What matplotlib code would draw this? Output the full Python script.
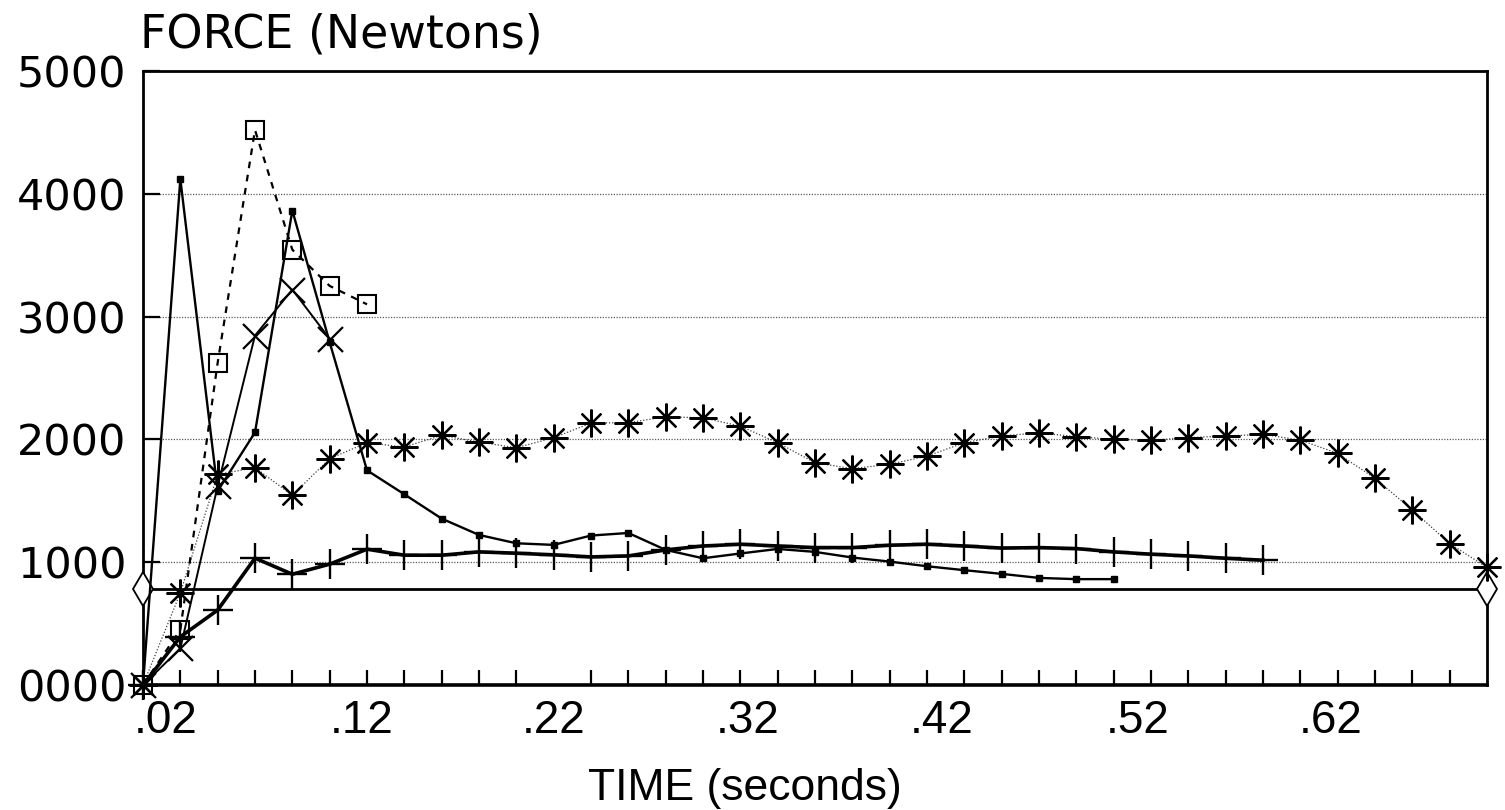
import matplotlib
matplotlib.use("Agg")
import matplotlib.pyplot as plt
from matplotlib.ticker import FixedLocator

# tiempos de muestreo (s)
time = [0.00, 0.02, 0.04, 0.06, 0.08, 0.10, 0.12, 0.14, 0.16, 0.18,
        0.20, 0.22, 0.24, 0.26, 0.28, 0.30, 0.32, 0.34, 0.36, 0.38,
        0.40, 0.42, 0.44, 0.46, 0.48, 0.50, 0.52, 0.54, 0.56, 0.58,
        0.60, 0.62, 0.64, 0.66, 0.68, 0.70, 0.72]

# series de fuerza (N)
open_square = [0, 450, 2625, 4520, 3545, 3250, 3100]
filled_square = [0, 4120, 1580, 2057, 3864, 2791, 1748, 1553, 1355, 1222,
                 1154, 1141, 1217, 1238, 1100, 1032, 1071, 1108, 1084, 1038,
                 1005, 967, 935, 905, 872, 862, 862]
cross = [0, 298, 1620, 2846, 3220, 2819]
asterisk = [0, 750, 1715, 1770, 1545, 1843, 1973, 1938, 2033, 1978,
            1932, 2014, 2133, 2136, 2184, 2176, 2108, 1973, 1810, 1762,
            1797, 1864, 1973, 2028, 2054, 2022, 2000, 1994, 2014, 2028,
            2041, 1994, 1886, 1683, 1425, 1152, 957]
plus = [0, 392, 610, 1033, 902, 984, 1106, 1057, 1057, 1084,
        1073, 1060, 1043, 1051, 1100, 1132, 1146, 1132, 1119, 1119,
        1138, 1146, 1132, 1115, 1119, 1111, 1084, 1065, 1051, 1032, 1016]
body_weight = [780, 780]

y_ticks = [0, 1000, 2000, 3000, 4000, 5000]
x_label_pos = [0.012, 0.117, 0.220, 0.324, 0.428, 0.533, 0.636]
x_labels = [".02", ".12", ".22", ".32", ".42", ".52", ".62"]

fig = plt.figure(figsize=(15.05, 8.10), dpi=100)
ax = fig.add_axes([143 / 1505, 1 - 685 / 810, (1487 - 143) / 1505, (685 - 71) / 810])

ax.set_xlim(0, 0.72)
ax.set_ylim(0, 5000)

# rejilla punteada
for v in y_ticks[1:-1]:
    ax.axhline(v, color="0.35", lw=0.9, ls=(0, (1, 1.2)), zorder=1)

# linea de peso corporal
ax.plot([time[0], time[-1]], body_weight, color="black", lw=2,
        marker="d", ms=17, mfc="white", mew=1.3, clip_on=False, zorder=3)

ax.plot(time[:len(asterisk)], asterisk, color="0.25", lw=0.9, ls=(0, (1, 1.5)),
        marker=(8, 2, 0), ms=20, mec="black", mew=1.6, clip_on=False, zorder=4)
ax.plot(time[:len(plus)], plus, color="black", lw=2.6,
        marker="+", ms=21, mew=1.7, clip_on=False, zorder=4)
ax.plot(time[:len(filled_square)], filled_square, color="black", lw=1.7,
        marker="s", ms=5, clip_on=False, zorder=5)
ax.plot(time[:len(cross)], cross, color="black", lw=1.4,
        marker="x", ms=18, mew=1.6, clip_on=False, zorder=5)
ax.plot(time[:len(open_square)], open_square, color="black", lw=1.6, ls=(0, (3, 3)),
        marker="s", ms=13, mfc="none", mew=1.5, clip_on=False, zorder=5)

for s in ax.spines.values():
    s.set_linewidth(2)
ax.spines["bottom"].set_linewidth(2.6)

# ejes
ax.set_yticks(y_ticks)
ax.set_yticklabels([f"{v:04d}" for v in y_ticks], fontsize=31,
                   family="DejaVu Sans")
ax.tick_params(axis="y", direction="in", length=12, width=1.6, pad=12)

ax.set_xticks(x_label_pos)
ax.set_xticklabels(x_labels, fontsize=33, family="Liberation Sans")
ax.xaxis.set_minor_locator(FixedLocator(time[1:-1]))
ax.tick_params(axis="x", which="major", length=0, pad=10)
ax.tick_params(axis="x", which="minor", direction="in", length=11, width=1.6)

fig.text(140 / 1505, 1 - 47 / 810, "FORCE (Newtons)", fontsize=33,
         family="DejaVu Sans", va="baseline", ha="left")
fig.text(745 / 1505, 1 - 800 / 810, "TIME (seconds)", fontsize=32,
         family="Liberation Sans", va="baseline", ha="center")

fig.savefig("out.png", dpi=100, facecolor="white")
